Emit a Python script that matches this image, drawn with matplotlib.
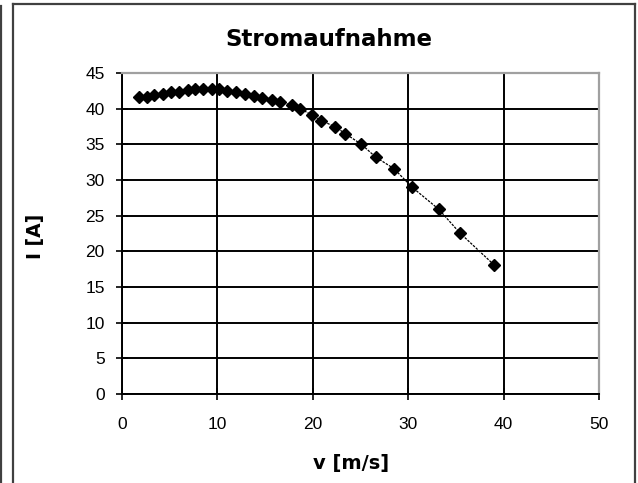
import matplotlib
matplotlib.use("Agg")
import matplotlib.pyplot as plt
from matplotlib.lines import Line2D

# Measured current draw over speed
speed = [1.8, 2.6, 3.4, 4.3, 5.1, 6.0, 6.9, 7.7, 8.5, 9.4, 10.2, 11.0, 12.0,
         12.9, 13.8, 14.7, 15.7, 16.6, 17.8, 18.7, 19.9, 20.9, 22.3, 23.4,
         25.1, 26.6, 28.5, 30.4, 33.2, 35.4, 39.0]
current = [41.6, 41.7, 41.9, 42.1, 42.3, 42.4, 42.6, 42.7, 42.8, 42.8, 42.7,
           42.5, 42.3, 42.0, 41.8, 41.5, 41.2, 40.9, 40.5, 40.0, 39.1, 38.3,
           37.5, 36.5, 35.0, 33.2, 31.6, 29.0, 25.9, 22.6, 18.1]

x_ticks = [0, 10, 20, 30, 40, 50]
y_ticks = [0, 5, 10, 15, 20, 25, 30, 35, 40, 45]

plt.rcParams['font.family'] = ['Liberation Sans', 'DejaVu Sans']
bold_font = ['DejaVu Sans']

W, H = 638, 483
fig = plt.figure(figsize=(W / 100, H / 100), dpi=100)

def px(x0, y0, x1, y1, **kw):
    fig.add_artist(Line2D([x0 / W, x1 / W], [1 - y0 / H, 1 - y1 / H],
                          transform=fig.transFigure, **kw))

# chart frame
px(13, 4, 635, 4, color='#404040', lw=1.6)
px(13, 4, 13, 483, color='#404040', lw=1.6)
px(635, 4, 635, 483, color='#404040', lw=1.6)
px(1, 6, 1, 483, color='#404040', lw=1.6)

ax = fig.add_axes([122 / W, 1 - 394 / H, 477 / W, 321 / H])
ax.plot(speed, current, color='black', lw=0.9, ls=(0, (2, 1)),
        marker='D', markersize=6.3, markerfacecolor='black',
        markeredgecolor='black', zorder=3)

ax.set_xlim(0, 50)
ax.set_ylim(0, 45)
ax.set_xticks(x_ticks)
ax.set_yticks(y_ticks)
ax.grid(True, color='black', lw=1.4)
ax.set_axisbelow(True)

for s in ['top', 'right']:
    ax.spines[s].set_color('#a0a0a0')
    ax.spines[s].set_linewidth(1.6)
for s in ['left', 'bottom']:
    ax.spines[s].set_color('black')
    ax.spines[s].set_linewidth(1.4)

ax.tick_params(direction='inout', length=9, width=1.2, labelsize=12.5,
               colors='black')
ax.tick_params(axis='y', pad=8)
ax.tick_params(axis='x', pad=12)

fig.text(329 / W, 1 - 40 / H, 'Stromaufnahme', family=bold_font,
         fontsize=16.5, fontweight='bold', ha='center', va='center')
fig.text(351 / W, 1 - 464 / H, 'v [m/s]', family=bold_font,
         fontsize=14, fontweight='bold', ha='center', va='center')
fig.text(35 / W, 1 - 236 / H, 'I [A]', family=bold_font, rotation=90,
         fontsize=13.5, fontweight='bold', ha='center', va='center')

fig.savefig('out.png', dpi=100)
